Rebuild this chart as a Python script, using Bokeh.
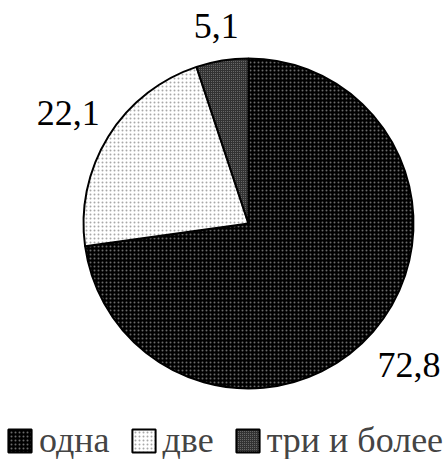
from math import pi, cos, sin

from bokeh.plotting import figure
from bokeh.models import ColumnDataSource, Legend, LegendItem
from bokeh.embed import file_html
from bokeh.resources import INLINE
from bokeh.core.properties import value

# Share of households by number of items (percent)
categories = ["одна", "две", "три и более"]
shares = [72.8, 22.1, 5.1]
labels = ["72,8", "22,1", "5,1"]

fill_colors = ["#000000", "#ffffff", "#333333"]
hatch_colors = ["#6a6a6a", "#a8a8a8", "#777777"]
hatch_scales = [4, 4, 2]

W, H = 444, 459
cx, cy, r = 248, H - 223, 165
FONT = "Liberation Serif"
FONT_PX = 36

# slices run clockwise from 12 o'clock
total = sum(shares)
starts, ends, mids = [], [], []
a = pi / 2
for s in shares:
    span = 2 * pi * s / total
    starts.append(a - span)
    ends.append(a)
    mids.append(a - span / 2)
    a -= span

p = figure(width=W, height=H, x_range=(0, W), y_range=(0, H),
           output_backend="svg", toolbar_location=None,
           min_border=0, outline_line_color=None)
p.axis.visible = False
p.grid.visible = False
p.background_fill_color = "white"
p.border_fill_color = "white"

renderers = []
for i in range(len(shares)):
    src = ColumnDataSource(dict(x=[cx], y=[cy], s=[starts[i]], e=[ends[i]]))
    rr = p.wedge(x="x", y="y", radius=r, start_angle="s", end_angle="e",
                 source=src, fill_color=fill_colors[i],
                 hatch_pattern="dot", hatch_color=hatch_colors[i],
                 hatch_scale=hatch_scales[i], hatch_weight=1,
                 line_color="black", line_width=2)
    renderers.append(rr)

# value labels sit just outside the rim, pushed out by their own box size
gap = 3
half_h = 30
lx, ly = [], []
for lab, m in zip(labels, mids):
    half_w = 0.25 * FONT_PX * len(lab) * 0.93
    d = r + gap + half_w * abs(cos(m)) + half_h * abs(sin(m))
    lx.append(cx + d * cos(m))
    ly.append(cy + d * sin(m))
p.text(x=lx, y=ly, text=labels, text_font=value(FONT),
       text_font_size=f"{FONT_PX}px", text_align="center",
       text_baseline="middle", y_offset=2, text_color="black")

legend = Legend(items=[LegendItem(label=c, renderers=[rr])
                       for c, rr in zip(categories, renderers)],
                orientation="horizontal", location=(5, -2),
                label_text_font=FONT, label_text_font_size=f"{FONT_PX}px",
                glyph_width=29, glyph_height=29, label_standoff=5,
                spacing=19, padding=0, border_line_color=None,
                background_fill_alpha=0, margin=0)
p.add_layout(legend)

open("out.html", "w").write(file_html(p, INLINE))
